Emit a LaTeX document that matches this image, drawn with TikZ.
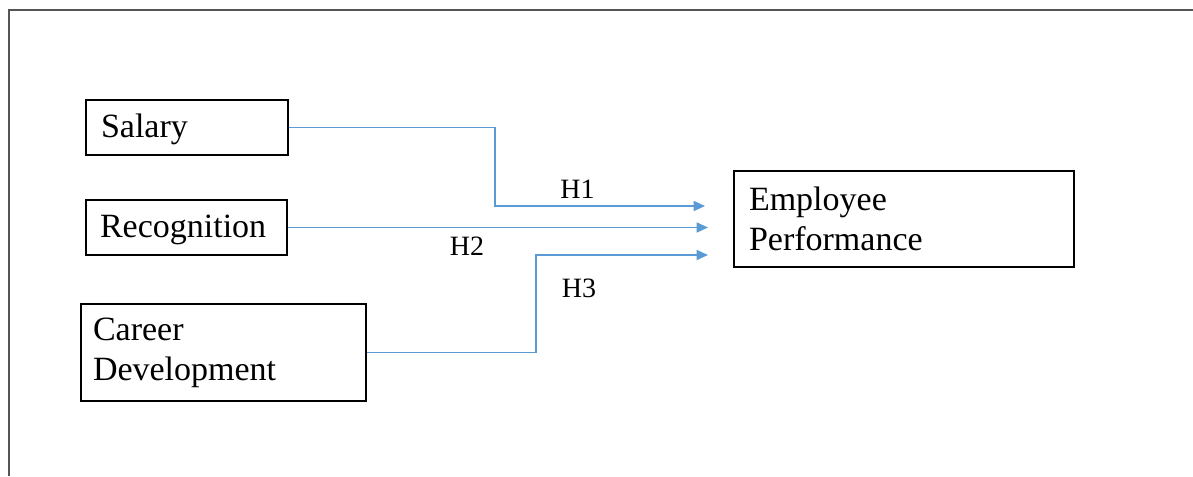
\documentclass[tikz,border=0pt]{standalone}
\usepackage{fontspec}
\setmainfont{Liberation Serif}
\usetikzlibrary{arrows.meta}
\definecolor{linkblue}{RGB}{91,155,213}
\definecolor{framegray}{RGB}{85,85,85}
\begin{document}
\begin{tikzpicture}[x=0.75pt,y=-0.75pt,
  box/.style={draw=black, line width=0.8pt, align=left, inner ysep=0pt,
    font=\fontsize{25.5}{30}\selectfont},
  onebox/.style={box, text height=17pt, text depth=1.5pt},
  link/.style={draw=linkblue, line width=1.2pt, -{Triangle[length=8.5pt,width=7.5pt]}},
  hlabel/.style={anchor=base, inner sep=0pt, font=\fontsize{21}{25}\selectfont}]
\useasboundingbox (0,0) rectangle (1193,476);
\draw[framegray, line width=1.6pt] (9,476) -- (9,10) -- (1193,10);

\node[onebox, minimum width=151.5pt, minimum height=41.25pt, inner xsep=11.25pt, text width=129pt]
  (sal) at (187,127.5) {Salary};
\node[onebox, minimum width=150.75pt, minimum height=41.25pt, inner xsep=10.5pt, text width=129.75pt]
  (rec) at (186.5,227.5) {Recognition};
\node[box, minimum width=213.75pt, minimum height=72.75pt, inner xsep=9pt, text width=195.75pt]
  (car) at (223.5,352.5) {Career\\Development};
\node[box, minimum width=255pt, minimum height=72pt, inner xsep=11.25pt, text width=232.5pt]
  (emp) at (904,219) {Employee\\Performance};

\coordinate (t1) at (705,206);
\coordinate (t2) at (708,227.5);
\coordinate (t3) at (708,255);
\coordinate (b1) at (495,206);
\coordinate (b3) at (536,255);

\draw[link] (sal.east) -| (b1) -- (t1);
\draw[link] (rec.east) -- (t2);
\draw[link] (car.east) -| (b3) -- (t3);

\node[hlabel] (h1) at (577.5,198) {H1};
\node[hlabel] (h2) at (467,255) {H2};
\node[hlabel] (h3) at (579,297) {H3};
\end{tikzpicture}
\end{document}
